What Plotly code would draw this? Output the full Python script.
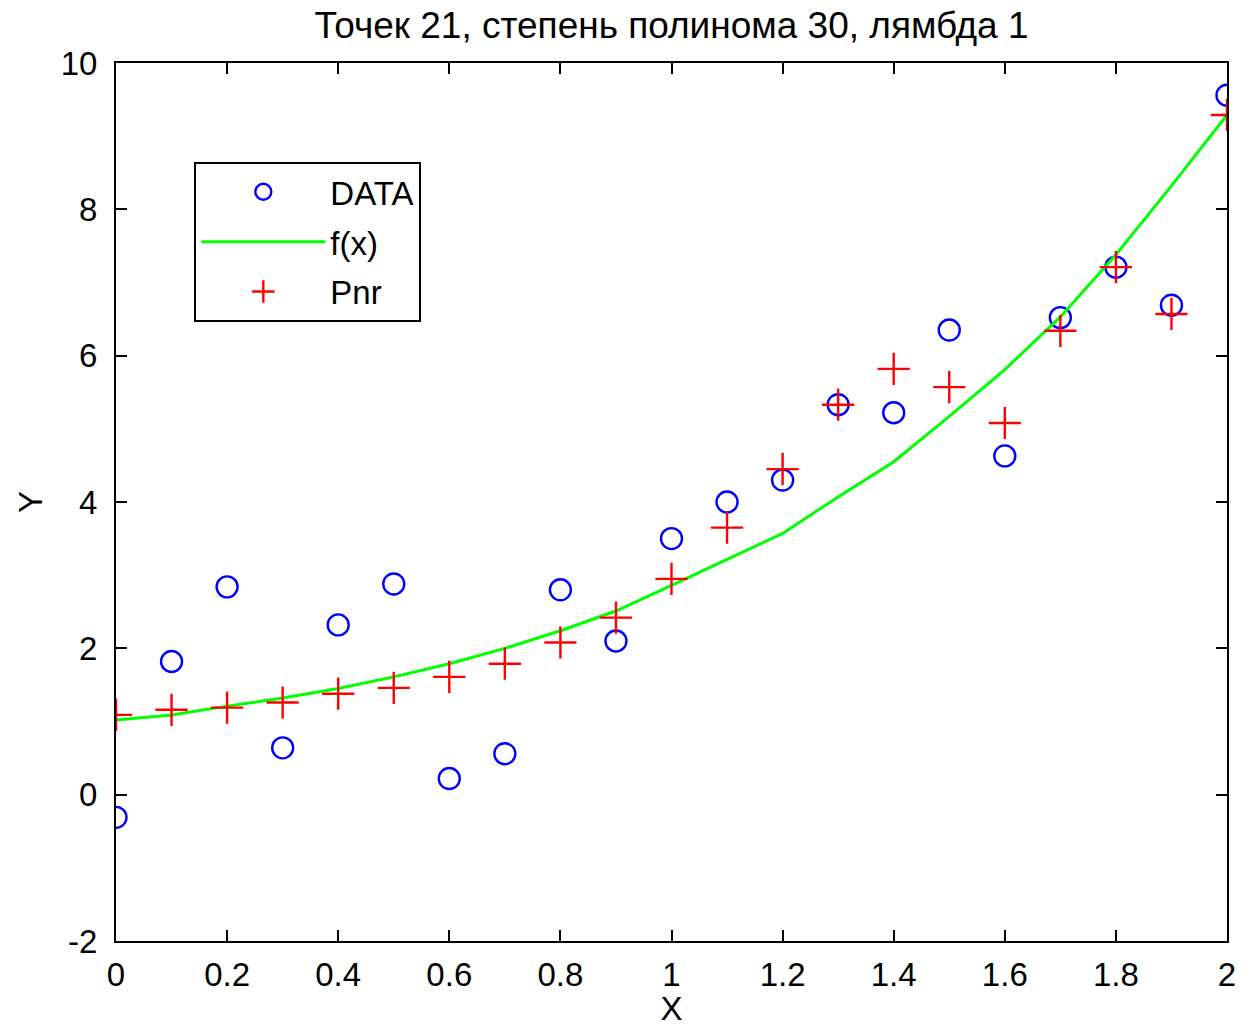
import plotly.graph_objects as go

# Sample points (noisy observations)
x_pts = [0.0, 0.1, 0.2, 0.3, 0.4, 0.5, 0.6, 0.7, 0.8, 0.9, 1.0,
         1.1, 1.2, 1.3, 1.4, 1.5, 1.6, 1.7, 1.8, 1.9, 2.0]
data_y = [-0.31, 1.82, 2.84, 0.64, 2.32, 2.88, 0.22, 0.56, 2.80, 2.10, 3.50,
          4.00, 4.30, 5.33, 5.22, 6.35, 4.63, 6.52, 7.21, 6.69, 9.56]

# True function f(x) on the same grid
f_y = [1.02, 1.09, 1.21, 1.32, 1.45, 1.61, 1.79, 2.00, 2.24, 2.51, 2.86,
       3.21, 3.57, 4.07, 4.55, 5.17, 5.81, 6.53, 7.38, 8.32, 9.29]

# Regularised polynomial fit evaluated at the sample points
pnr_y = [1.09, 1.16, 1.19, 1.26, 1.38, 1.46, 1.61, 1.79, 2.08, 2.42, 2.95,
         3.65, 4.45, 5.33, 5.82, 5.57, 5.08, 6.34, 7.21, 6.57, 9.29]

x_ticks = [0, 0.2, 0.4, 0.6, 0.8, 1, 1.2, 1.4, 1.6, 1.8, 2]
y_ticks = [-2, 0, 2, 4, 6, 8, 10]

FONT = "Liberation Sans, Arial, sans-serif"
TXT = 33

fig = go.Figure()
fig.add_trace(go.Scatter(
    x=x_pts, y=data_y, mode="markers", name="DATA", legendgroup="a",
    marker=dict(symbol="circle-open", size=21, color="#0000FF",
                line=dict(width=2.4, color="#0000FF")),
))
fig.add_trace(go.Scatter(
    x=x_pts, y=f_y, mode="lines", name="f(x)", legendgroup="b",
    line=dict(color="#00FF00", width=3),
))
fig.add_trace(go.Scatter(
    x=x_pts, y=pnr_y, mode="markers", name="Pnr", legendgroup="c",
    marker=dict(symbol="cross-thin-open", size=23, color="#FF0000",
                line=dict(width=2.4, color="#FF0000")),
))

axis_common = dict(
    showline=True, linecolor="black", linewidth=2, mirror="ticks",
    ticks="inside", ticklen=11, tickwidth=2, tickcolor="black",
    showgrid=False, zeroline=False, automargin=False,
    tickfont=dict(family=FONT, size=TXT, color="black"),
)

fig.update_layout(
    width=1245, height=1027,
    margin=dict(l=116, r=18, t=63, b=86),
    paper_bgcolor="white", plot_bgcolor="white",
    title=dict(text="Точек 21, степень полинома 30, лямбда 1",
               font=dict(family=FONT, size=37, color="black"),
               x=0.5, xref="paper", y=0.976, yanchor="middle"),
    xaxis=dict(range=[0, 2], tickvals=x_ticks,
               ticktext=[f"{v:g}" for v in x_ticks],
               ticklabelstandoff=3,
               title=dict(text="X", standoff=10,
                          font=dict(family=FONT, size=TXT, color="black")),
               **axis_common),
    yaxis=dict(range=[-2, 10], tickvals=y_ticks,
               ticktext=[str(v) for v in y_ticks],
               ticklabelstandoff=10,
               title=dict(text="Y", standoff=8,
                          font=dict(family=FONT, size=TXT, color="black")),
               **axis_common),
    legend=dict(x=0.0705, y=0.8875, xanchor="left", yanchor="top",
                bgcolor="white", bordercolor="black", borderwidth=2,
                font=dict(family=FONT, size=TXT, color="black"),
                itemwidth=124, traceorder="grouped", tracegroupgap=4),
    showlegend=True,
)

fig.write_html("out.html")
